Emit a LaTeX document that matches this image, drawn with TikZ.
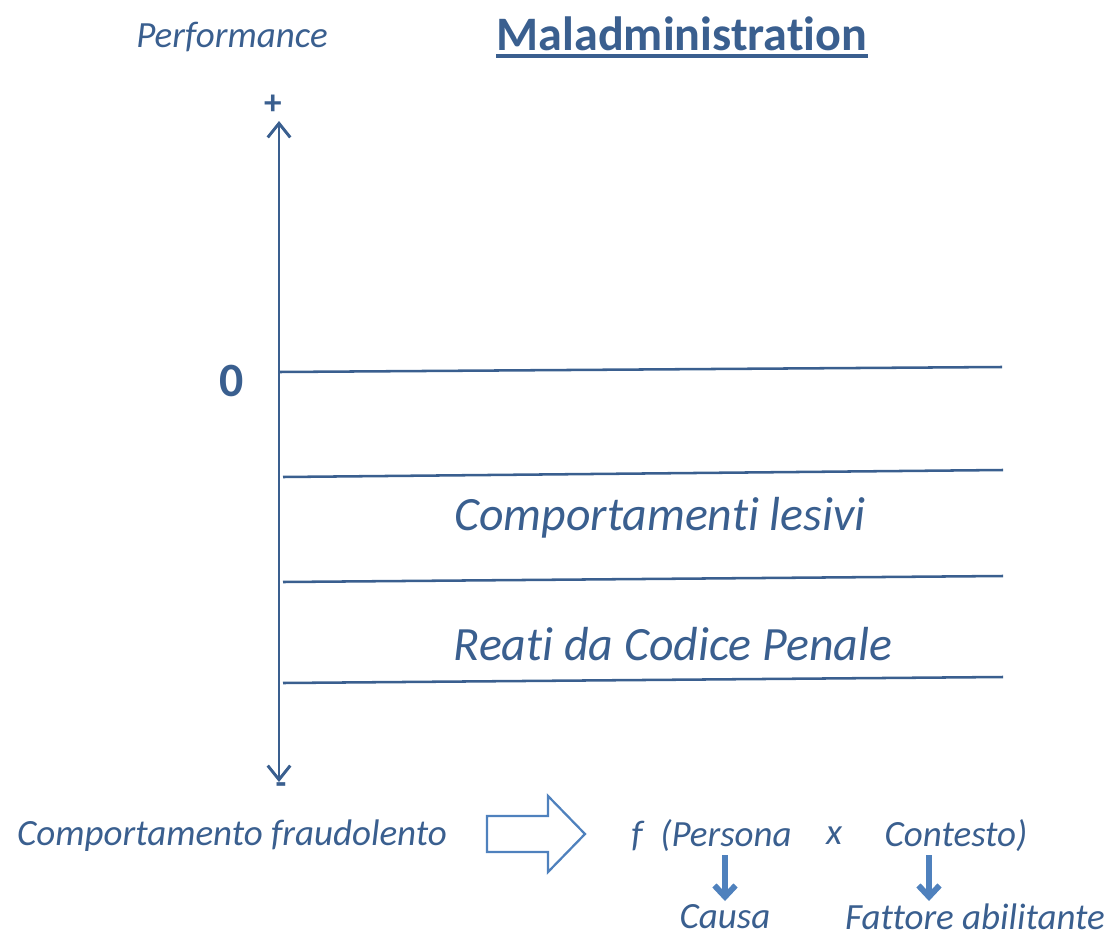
\documentclass[tikz,border=0pt]{standalone}
\usepackage{fontspec}
\setmainfont{Carlito}[Ligatures={NoCommon,NoContextual}, Contextuals=NoAlternate]
\usetikzlibrary{arrows.meta}
\definecolor{maldark}{HTML}{3A5F8F}
\definecolor{mallight}{HTML}{4F81BD}
\tikzset{
axisline/.style={draw=maldark, line width=2.1pt, {Straight Barb[length=10pt,width=16pt,line width=2.1pt]}-{Straight Barb[length=10pt,width=16pt,line width=2.1pt]}},
level/.style={draw=maldark, line width=1.8pt},
smalltext/.style={text=maldark, font=\fontsize{26.3}{28}\selectfont\itshape, inner sep=0pt},
bigtext/.style={text=maldark, font=\fontsize{34}{36}\selectfont\itshape, inner sep=0pt},
pointer/.style={draw=mallight, line width=4.2pt, -{Straight Barb[length=8pt,width=15pt,line width=4.2pt]}}
}
\begin{document}
\begin{tikzpicture}[x=0.025cm, y=-0.025cm]
  \useasboundingbox (0,0) rectangle (1112,940);
% titles
\node[smalltext] (perf) at (232,37) {Performance};
\node[text=maldark, font=\fontsize{34.2}{36}\selectfont\bfseries, inner sep=0pt] (title) at (682,34) {Maladministration};
\draw[maldark, line width=2.4pt] (title.south west |- 0,56) -- (title.south east |- 0,56);
% axis
\coordinate (axtop) at (279,121);
\coordinate (axbot) at (279,782);
\draw[axisline] (axbot) -- (axtop);
\node[text=maldark, font=\fontsize{25}{28}\selectfont\bfseries, inner sep=0pt] (plus) at (273,105) {+};
\node[text=maldark, font=\fontsize{25}{28}\selectfont\bfseries, inner sep=0pt] (minus) at (281,789) {-};
\node[text=maldark, font=\fontsize{34}{36}\selectfont\bfseries, inner sep=0pt] (zero) at (232,381) {0};
% levels
\coordinate (z0) at (279,372);  \coordinate (z1) at (1002,367);
\coordinate (a0) at (283,477);  \coordinate (a1) at (1003,470);
\coordinate (b0) at (283,582);  \coordinate (b1) at (1003,576);
\coordinate (c0) at (283,683);  \coordinate (c1) at (1003,677);
\draw[level] (z0) -- (z1);
\draw[level] (a0) -- (a1);
\draw[level] (b0) -- (b1);
\draw[level] (c0) -- (c1);
\node[bigtext] (lesivi) at (660,518) {Comportamenti lesivi};
\node[bigtext] (reati) at (673,644) {Reati da Codice Penale};
% formula
\node[smalltext] (fraud) at (232,836) {Comportamento fraudolento};
\draw[mallight, line width=1.6pt, line join=miter] (487,816) -- (548,816) -- (548,796) -- (585,834)
  -- (548,872) -- (548,852) -- (487,852) -- cycle;
\node[smalltext] (eff) at (637,836) {f};
\node[smalltext] (persona) at (726,836) {(Persona};
\node[smalltext] (per) at (834,836) {x};
\node[smalltext] (contesto) at (956,836) {Contesto)};
\node[smalltext] (causa) at (725,917) {Causa};
\node[smalltext] (fattore) at (975,917) {Fattore abilitante};
\coordinate (pa) at (725,855);  \coordinate (pb) at (725,901);
\coordinate (ca) at (929,855);  \coordinate (cb) at (929,901);
\draw[pointer] (pa) -- (pb);
\draw[pointer] (ca) -- (cb);
\end{tikzpicture}
\end{document}
